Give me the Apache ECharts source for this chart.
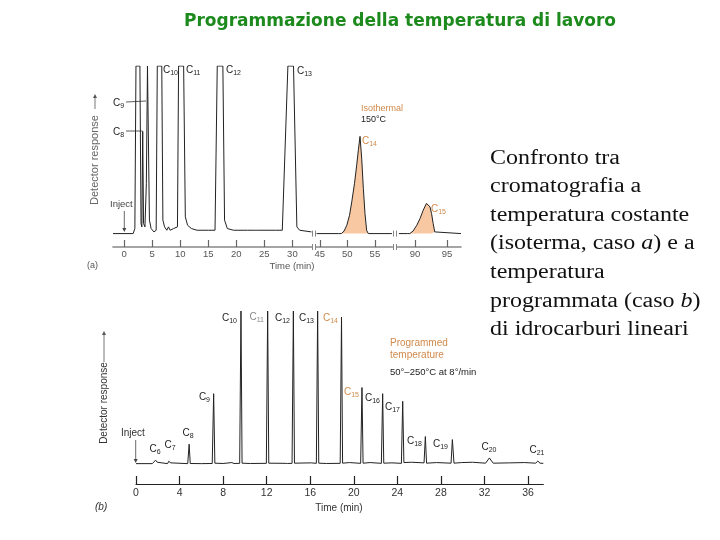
<!DOCTYPE html>
<html><head><meta charset="utf-8">
<script src="https://cdn.jsdelivr.net/npm/echarts@6/dist/echarts.min.js"></script>
<style>html,body{margin:0;padding:0;background:#fff}#c{width:720px;height:540px}</style>
</head><body><div id="c"></div>
<script>
// ---------- data ----------
const ticksA1 = [0, 5, 10, 15, 20, 25, 30];
const ticksA2 = [45, 50, 55];
const ticksA3 = [90, 95];
const ticksB = [0, 4, 8, 12, 16, 20, 24, 28, 32, 36];

// (a) isothermal, segment 0-33 min  [time, response]
const traceA1 = [[-2,0],[1.6,0],[1.9,3],[2.1,100],[2.8,100],[3.0,6],[3.15,4],[3.3,61],[3.45,6],[3.7,4],[3.95,30],[4.15,100],[4.35,100],[4.5,8],[4.8,3],[5.3,1],[5.7,2],[5.9,100],[6.7,100],[6.9,8],[7.2,4],[7.6,2],[7.9,4],[8.2,2],[8.5,1],[8.8,3],[9.1,2],[9.5,4],[9.7,100],[10.6,100],[10.9,10],[11.3,5],[12,3],[13,2],[15,2],[16.2,2],[16.6,100],[17.6,100],[17.9,8],[18.4,3],[19.5,2],[22,2],[23.2,2],[23.5,3],[23.8,2],[27,2],[28.2,2],[29.2,100],[30.2,100],[30.8,4],[31.3,2],[33.4,1]];
// (a) segment 44-58 min
const baseA2L = [[44.4,0],[48.4,0]];
const peakC14 = [[48.9,0],[49.4,1.5],[49.9,5],[50.4,11],[50.8,19],[51.3,30],[51.7,41],[52.0,50],[52.3,58],[52.6,45],[52.9,27],[53.2,12],[53.5,2],[53.8,0]];
const baseA2R = [[58.1,0]];
// (a) segment 87-97 min
const baseA3L = [[87.5,0],[88.8,0]];
const peakC15 = [[89.2,0],[89.7,1.5],[90.3,5],[90.8,9],[91.3,14],[91.8,18],[92.1,19],[92.35,16],[92.6,12],[92.85,6],[93.1,1],[93.4,0]];
const baseA3R = [[97.2,0]];

// (b) programmed temperature
const traceB = [[0,0.3],[1.5,0.3],[1.65,1.5],[1.8,2.6],[1.95,1.2],[2.1,0.3],[2.9,0.3],[3.0,1.8],[3.1,2.6],[3.2,0.8],[3.3,0.3],[4.75,0.3],[4.88,13],[4.98,0.4],[6,0.3],[7.0,0.4],[7.13,46],[7.24,0.6],[8.0,0.4],[8.8,1.0],[9.0,0.4],[9.52,0.5],[9.64,100],[9.74,0.6],[10.5,0.4],[11.97,0.5],[12.09,100],[12.19,0.6],[13.7,0.5],[13.8,1],[13.9,0.4],[14.33,0.5],[14.45,100],[14.55,0.6],[16.1,0.8],[16.56,0.5],[16.68,100],[16.78,0.6],[17.5,0.4],[18.75,0.5],[18.87,96],[18.97,0.6],[19.6,1],[20.63,0.5],[20.75,50],[20.85,0.6],[21.5,1],[22.53,0.5],[22.65,46],[22.75,0.6],[23.5,0.8],[24.37,0.5],[24.49,41],[24.6,1.0],[25.3,1.2],[26.45,0.8],[26.57,18],[26.68,0.6],[27.6,1],[28.93,0.6],[29.05,16],[29.2,0.6],[29.9,1],[30.9,1.2],[32.1,0.6],[32.45,4],[32.8,0.6],[34.3,0.8],[35.7,1],[36.7,0.6],[36.9,2],[37.1,0.6],[37.4,0.5]];

const titleText = 'Programmazione della temperatura di lavoro';
const sideLines = ['Confronto tra','cromatografia a','temperatura costante','(isoterma, caso {i|a}) e a','temperatura','programmata (caso {i|b})','di idrocarburi lineari'];

// ---------- chart ----------
const chart = echarts.init(document.getElementById('c'), null, {renderer:'canvas'});
const ORANGE = '#d08a4c';
const LINE = '#222';

function xA(idx, min, max, ticks){
  return {type:'value', gridIndex:idx, min, max,
    axisLine:{show:true, onZero:false, lineStyle:{color:'#888', width:1.6}},
    axisTick:{show:true, inside:true, length:7, customValues:ticks, lineStyle:{color:'#666', width:1.2}},
    axisLabel:{customValues:ticks, color:'#555', fontSize:9.5, margin:2, fontFamily:'Liberation Sans'},
    splitLine:{show:false}};
}
function yHidden(idx, min, max){
  return {type:'value', gridIndex:idx, min, max, show:false, splitLine:{show:false}};
}
function line(idx, data, extra){
  return Object.assign({type:'line', xAxisIndex:idx, yAxisIndex:idx, data, symbol:'none', silent:true,
    lineStyle:{color:LINE, width:1}, animation:false}, extra||{});
}

const rich = {
  n:{fontSize:10, fontFamily:'Liberation Sans', lineHeight:14, verticalAlign:'middle'},
  s:{fontSize:7, fontFamily:'Liberation Sans', lineHeight:8, verticalAlign:'bottom'}
};
function cl(num, x, y, color, align){
  return {type:'text', x, y, style:{text:'{n|C}{s|'+num+'}', rich:JSON.parse(JSON.stringify(rich)), fill:color||'#222', align:align||'left', verticalAlign:'middle'}};
}
function txt(t, x, y, size, color, extra){
  return {type:'text', x, y, style:Object.assign({text:t, fontSize:size, fontFamily:'Liberation Sans', fill:color, align:'left', verticalAlign:'middle'}, extra||{})};
}
function vArrowDown(x, y1, y2){
  return [{type:'line', shape:{x1:x, y1:y1, x2:x, y2:y2-3}, style:{stroke:'#444', lineWidth:0.8}},
          {type:'polygon', shape:{points:[[x-2,y2-4],[x+2,y2-4],[x,y2]]}, style:{fill:'#444'}}];
}
function vArrowUp(x, y1, y2){
  return [{type:'line', shape:{x1:x, y1:y1, x2:x, y2:y2+3}, style:{stroke:'#555', lineWidth:0.8}},
          {type:'polygon', shape:{points:[[x-2,y2+4],[x+2,y2+4],[x,y2]]}, style:{fill:'#555'}}];
}
function breakMark(x, y){
  return [{type:'line', shape:{x1:x-1.5, y1:y-3, x2:x-1.5, y2:y+3}, style:{stroke:'#666', lineWidth:0.8}},
          {type:'line', shape:{x1:x+1.5, y1:y-3, x2:x+1.5, y2:y+3}, style:{stroke:'#666', lineWidth:0.8}}];
}

const graphics = [
  txt(titleText, 400, 22, 17, '#1d8a1d', {align:'center', fontFamily:'DejaVu Sans', fontWeight:'bold'}),
  {type:'text', x:490, y:144, scaleX:1.2, style:{text:sideLines.join('\n'), fontSize:20, fontFamily:'Liberation Serif', fill:'#111', lineHeight:28.6, align:'left', verticalAlign:'top',
    rich:{i:{fontStyle:'italic', fontSize:20, fontFamily:'Liberation Serif', lineHeight:28.6}}}},
  // (a) annotations
  {type:'text', x:95, y:160, rotation:Math.PI/2, style:{text:'Detector response', fontSize:11, fontFamily:'Liberation Sans', fill:'#666', align:'center', verticalAlign:'middle'}},
  ...vArrowUp(95, 109, 94),
  txt('Inject', 110, 204, 9.5, '#444'),
  ...vArrowDown(124.3, 211, 232),
  txt('(a)', 87, 266, 9, '#555'),
  txt('Time (min)', 292, 266, 9.5, '#555', {align:'center'}),
  cl('9', 113, 103), {type:'line', shape:{x1:126, y1:102, x2:146, y2:101}, style:{stroke:'#333', lineWidth:0.8}},
  cl('8', 113, 132), {type:'line', shape:{x1:126, y1:131, x2:142.5, y2:131}, style:{stroke:'#333', lineWidth:0.8}},
  cl('10', 163, 70), cl('11', 186, 70), cl('12', 226, 70), cl('13', 297, 71),
  txt('Isothermal', 361, 109, 9, ORANGE),
  txt('150°C', 361, 120, 9, '#222'),
  cl('14', 362, 141, ORANGE),
  cl('15', 431, 209, ORANGE),
  ...breakMark(314, 233.6), ...breakMark(314, 247),
  ...breakMark(395, 233.6), ...breakMark(395, 247),
  // (b) annotations
  {type:'text', x:104, y:403, rotation:Math.PI/2, style:{text:'Detector response', fontSize:10, fontFamily:'Liberation Sans', fill:'#333', align:'center', verticalAlign:'middle'}},
  ...vArrowUp(104, 362, 331),
  txt('Inject', 121, 433, 10, '#333'),
  ...vArrowDown(135.7, 440, 463),
  txt('(b)', 95, 507, 10, '#333', {fontStyle:'italic'}),
  txt('Time (min)', 339, 508, 10, '#333', {align:'center'}),
  cl('6', 155, 449, '#222', 'center'), cl('7', 170, 445, '#222', 'center'), cl('8', 188, 433, '#222', 'center'),
  cl('9', 210, 397, '#222', 'right'), cl('10', 237, 318, '#222', 'right'), cl('11', 264, 317, '#888', 'right'),
  cl('12', 290, 318, '#222', 'right'), cl('13', 314, 318, '#222', 'right'), cl('14', 338, 318, ORANGE, 'right'),
  cl('15', 359, 392, ORANGE, 'right'), cl('16', 380, 398, '#222', 'right'), cl('17', 400, 407, '#222', 'right'),
  cl('18', 422, 441, '#222', 'right'), cl('19', 448, 444, '#222', 'right'), cl('20', 489, 447, '#222', 'center'),
  cl('21', 537, 450, '#222', 'center'),
  txt('Programmed', 390, 343, 10, ORANGE),
  txt('temperature', 390, 355, 10, ORANGE),
  txt('50°–250°C at 8°/min', 390, 372, 9.5, '#222')
];

const option = {
  backgroundColor:'#fff',
  animation:false,
  grid:[
    {left:113, top:66, width:199, height:181},
    {left:316, top:66, width:76.5, height:181},
    {left:397, top:66, width:64, height:181},
    {left:136, top:311, width:407.3, height:173}
  ],
  xAxis:[
    xA(0, -2, 33.5, ticksA1),
    xA(1, 44.3, 58.2, ticksA2),
    xA(2, 87.2, 97.2, ticksA3),
    {type:'value', gridIndex:3, min:0, max:37.4,
      axisLine:{show:true, onZero:false, lineStyle:{color:'#222', width:1.2}},
      axisTick:{show:true, inside:true, length:8, customValues:ticksB, lineStyle:{color:'#222', width:1.2}},
      axisLabel:{customValues:ticksB, color:'#333', fontSize:10.5, margin:4, fontFamily:'Liberation Sans'},
      splitLine:{show:false}}
  ],
  yAxis:[yHidden(0,-8,100), yHidden(1,-8,100), yHidden(2,-8,100), yHidden(3,-13,100)],
  series:[
    line(0, traceA1),
    line(1, peakC14, {lineStyle:{width:0}, areaStyle:{color:'#f8c8a2', opacity:1}}),
    line(1, baseA2L.concat(peakC14, baseA2R)),
    line(2, peakC15, {lineStyle:{width:0}, areaStyle:{color:'#f8c8a2', opacity:1}}),
    line(2, baseA3L.concat(peakC15, baseA3R)),
    line(3, traceB)
  ],
  graphic: graphics
};
chart.setOption(option);
</script></body></html>
